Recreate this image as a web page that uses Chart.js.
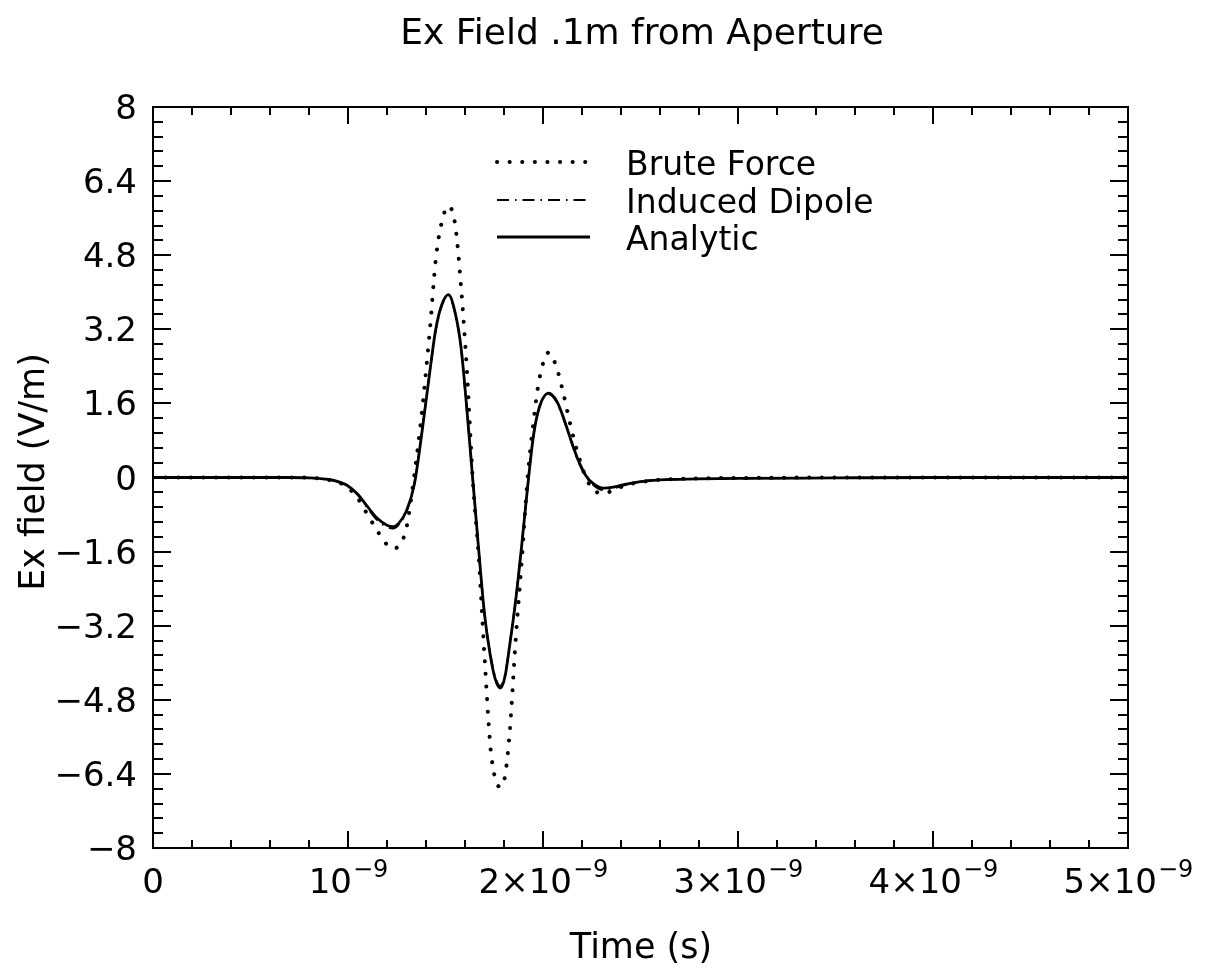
<!DOCTYPE html>
<html>
<head>
<meta charset="utf-8">
<title>Ex Field .1m from Aperture</title>
<script src="https://cdn.jsdelivr.net/npm/chart.js@4.4.1/dist/chart.umd.min.js"></script>
<style>
  body { margin: 0; background: #fff; }
  #wrap { width: 1209px; height: 972px; }
</style>
</head>
<body>
<div id="wrap"><canvas id="chart" width="1209" height="972"></canvas></div>
<script>
// time in units of 1e-9 s
var times = [0, 0.4, 0.6, 0.7, 0.8, 0.85, 0.9, 0.95, 1.0, 1.05, 1.1, 1.15, 1.2, 1.23, 1.26, 1.3,
  1.34, 1.38, 1.42, 1.45, 1.48, 1.515, 1.55, 1.58, 1.61, 1.64, 1.67, 1.70, 1.73, 1.755, 1.78,
  1.805, 1.83, 1.86, 1.89, 1.92, 1.95, 1.98, 2.03, 2.07, 2.1, 2.14, 2.18, 2.22, 2.26, 2.31,
  2.36, 2.42, 2.5, 2.6, 2.7, 2.8, 3.0, 3.5, 4.0, 4.5, 5.0];

var bruteForce = [0, 0, 0, 0, 0, -0.02, -0.05, -0.1, -0.22, -0.45, -0.8, -1.15, -1.45, -1.53, -1.48, -1.08,
  0.05, 1.45, 3.2, 4.7, 5.5, 5.86, 5.45, 4.1, 2.3, -0.05, -1.7, -3.85, -5.8, -6.5, -6.68,
  -6.45, -5.45, -3.5, -1.85, -0.06, 1.16, 2.1, 2.7, 2.37, 1.9, 1.15, 0.5, 0.0, -0.27, -0.34,
  -0.28, -0.17, -0.1, -0.05, -0.03, -0.02, -0.01, 0, 0, 0, 0];

var inducedDipole = [0, 0, 0, 0, -0.01, -0.02, -0.05, -0.1, -0.2, -0.38, -0.66, -0.92, -1.07, -1.1, -1.02, -0.74,
  -0.14, 1.02, 2.3, 3.18, 3.7, 3.93, 3.53, 2.78, 1.43, -0.06, -1.55, -2.93, -3.82, -4.3, -4.5,
  -4.27, -3.57, -2.63, -1.48, -0.24, 0.87, 1.49, 1.8, 1.63, 1.33, 0.83, 0.36, 0.02, -0.17, -0.27,
  -0.24, -0.16, -0.09, -0.05, -0.04, -0.03, -0.02, -0.01, 0, 0, 0];

var analytic = [0, 0, 0, 0, -0.01, -0.02, -0.04, -0.09, -0.18, -0.36, -0.63, -0.88, -1.03, -1.06, -0.99, -0.72,
  -0.15, 1.0, 2.3, 3.2, 3.72, 3.95, 3.55, 2.8, 1.45, -0.05, -1.55, -2.95, -3.85, -4.35, -4.55,
  -4.3, -3.6, -2.65, -1.5, -0.25, 0.87, 1.5, 1.82, 1.65, 1.35, 0.85, 0.38, 0.04, -0.14, -0.23,
  -0.21, -0.15, -0.09, -0.05, -0.04, -0.03, -0.02, -0.01, 0, 0, 0];

var seriesNames = ['Brute Force', 'Induced Dipole', 'Analytic'];

var yTicks = [8, 6.4, 4.8, 3.2, 1.6, 0, -1.6, -3.2, -4.8, -6.4, -8];
var yTickLabels = ['8', '6.4', '4.8', '3.2', '1.6', '0', '\u22121.6', '\u22123.2', '\u22124.8', '\u22126.4', '\u22128'];
var xTicks = [0, 1, 2, 3, 4, 5];
var xTickBase = ['0', '10', '2\u00d710', '3\u00d710', '4\u00d710', '5\u00d710'];
var xTickExp = ['', '\u22129', '\u22129', '\u22129', '\u22129', '\u22129'];

var FONT = '"DejaVu Sans", sans-serif';

function points(vals) {
  return times.map(function(t, i) { return { x: t, y: vals[i] }; });
}

var styles = [
  { borderWidth: 4, borderDash: [0.1, 12.5], borderCapStyle: 'round' },
  { borderWidth: 2, borderDash: [12, 6, 1.5, 6], borderCapStyle: 'butt' },
  { borderWidth: 2.8, borderDash: [], borderCapStyle: 'butt' }
];

var framePlugin = {
  id: 'frame',
  afterDraw: function(chart) {
    var ctx = chart.ctx;
    var a = chart.chartArea;
    var xs = chart.scales.x, ys = chart.scales.y;
    var v, p;
    ctx.save();
    ctx.strokeStyle = '#000';
    ctx.fillStyle = '#000';
    ctx.lineWidth = 2;
    ctx.setLineDash([]);
    ctx.strokeRect(a.left, a.top, a.right - a.left, a.bottom - a.top);

    ctx.beginPath();
    // x minor / major ticks, bottom and top, pointing inward
    for (v = 0; v <= 5.0001; v += 0.2) {
      p = Math.round(xs.getPixelForValue(v));
      var major = Math.abs(v - Math.round(v)) < 1e-6;
      var len = major ? 17 : 8;
      ctx.moveTo(p, a.bottom); ctx.lineTo(p, a.bottom - len);
      ctx.moveTo(p, a.top); ctx.lineTo(p, a.top + len);
    }
    // y ticks, left and right
    for (var k = 0; k <= 50; k++) {
      v = -8 + k * 0.32;
      p = Math.round(ys.getPixelForValue(v));
      var lenY = (k % 5 === 0) ? 18 : 10;
      ctx.moveTo(a.left, p); ctx.lineTo(a.left + lenY, p);
      ctx.moveTo(a.right, p); ctx.lineTo(a.right - lenY, p);
    }
    ctx.stroke();

    // y tick labels
    ctx.font = '34px ' + FONT;
    ctx.textAlign = 'right';
    ctx.textBaseline = 'alphabetic';
    yTicks.forEach(function(t, i) {
      ctx.fillText(yTickLabels[i], a.left - 16, ys.getPixelForValue(t) + 12);
    });

    // x tick labels with superscript exponent
    ctx.textAlign = 'left';
    xTicks.forEach(function(t, i) {
      var px = xs.getPixelForValue(t);
      ctx.font = '34px ' + FONT;
      var wb = ctx.measureText(xTickBase[i]).width;
      ctx.font = '24px ' + FONT;
      var we = xTickExp[i] ? ctx.measureText(xTickExp[i]).width : 0;
      var x0 = px - (wb + we) / 2;
      ctx.font = '34px ' + FONT;
      ctx.fillText(xTickBase[i], x0, 893);
      if (xTickExp[i]) {
        ctx.font = '24px ' + FONT;
        ctx.fillText(xTickExp[i], x0 + wb + 1, 877);
      }
    });

    // titles
    ctx.textAlign = 'center';
    ctx.font = '36px ' + FONT;
    ctx.fillText('Ex Field .1m from Aperture', 642, 44);
    ctx.font = '35px ' + FONT;
    ctx.fillText('Time (s)', 641, 958);
    ctx.save();
    ctx.translate(44, 472);
    ctx.rotate(-Math.PI / 2);
    ctx.fillText('Ex field (V/m)', 0, 0);
    ctx.restore();

    // legend
    var legY = [162, 200, 237];
    ctx.textAlign = 'left';
    ctx.font = '33px ' + FONT;
    seriesNames.forEach(function(name, i) {
      var s = styles[i];
      ctx.beginPath();
      ctx.lineWidth = s.borderWidth;
      ctx.lineCap = s.borderCapStyle;
      ctx.setLineDash(s.borderDash);
      ctx.moveTo(497, legY[i]);
      ctx.lineTo(590, legY[i]);
      ctx.stroke();
      ctx.setLineDash([]);
      ctx.fillText(name, 626, legY[i] + 13);
    });
    ctx.restore();
  }
};

var series = [bruteForce, inducedDipole, analytic];
var datasets = series.map(function(vals, i) {
  return {
    label: seriesNames[i],
    data: points(vals),
    borderColor: '#000',
    backgroundColor: '#000',
    borderWidth: styles[i].borderWidth,
    borderDash: styles[i].borderDash,
    borderCapStyle: styles[i].borderCapStyle,
    pointRadius: 0,
    fill: false,
    cubicInterpolationMode: 'monotone',
    order: 3 - i
  };
});

new Chart(document.getElementById('chart').getContext('2d'), {
  type: 'line',
  data: { datasets: datasets },
  options: {
    responsive: false,
    animation: false,
    events: [],
    layout: { padding: { left: 153, right: 81, top: 107, bottom: 124 } },
    scales: {
      x: { type: 'linear', min: 0, max: 5, display: false },
      y: { type: 'linear', min: -8, max: 8, display: false }
    },
    plugins: {
      legend: { display: false },
      title: { display: false },
      tooltip: { enabled: false }
    }
  },
  plugins: [framePlugin]
});
</script>
</body>
</html>
